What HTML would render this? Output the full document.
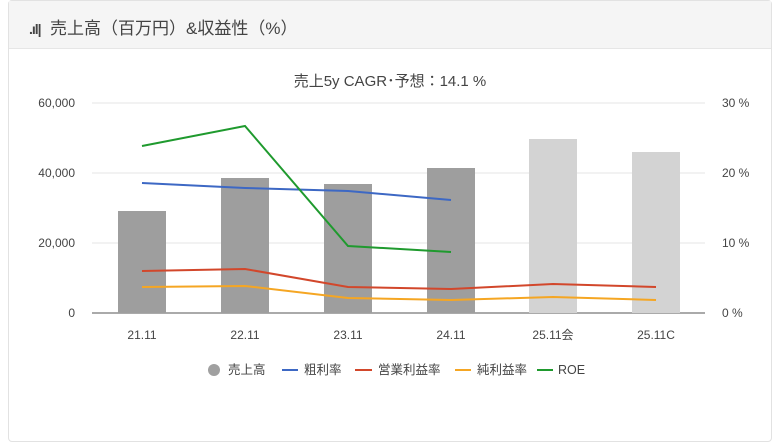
<!DOCTYPE html>
<html><head><meta charset="utf-8"><style>
body{margin:0;width:780px;height:405px;background:#fff;overflow:hidden;font-family:"Liberation Sans","Noto Sans CJK JP",sans-serif;}
.card{position:absolute;left:8px;top:0;width:762px;height:440px;border:1px solid #e2e2e2;border-radius:4px;}
.hd{position:absolute;left:0;top:0;right:0;height:47px;background:#f5f5f5;border-bottom:1px solid #e6e6e6;}
.hd span{position:absolute;left:20px;top:13px;font-size:17px;color:#444;}
</style></head><body>
<div class="card"><div class="hd"><span><b style="font-size:14px;letter-spacing:-1px">.ıl|</b>&nbsp; 売上高（百万円）&amp;収益性（%）</span></div></div>
<svg width="780" height="405" style="position:absolute;left:0;top:0" font-family="Liberation Sans, Noto Sans CJK JP, sans-serif">
<text x="390" y="86" text-anchor="middle" font-size="15" fill="#444">売上5y CAGR･予想：14.1 %</text>
<g stroke="#e6e6e6" stroke-width="1">
<line x1="92" x2="705" y1="103" y2="103"/><line x1="92" x2="705" y1="173" y2="173"/><line x1="92" x2="705" y1="243" y2="243"/></g>
<line x1="92" x2="705" y1="313" y2="313" stroke="#555"/>
<g font-size="12" fill="#444" text-anchor="end">
<text x="75" y="107">60,000</text><text x="75" y="177">40,000</text><text x="75" y="247">20,000</text><text x="75" y="317">0</text></g>
<g font-size="12" fill="#444">
<text x="722" y="107">30 %</text><text x="722" y="177">20 %</text><text x="722" y="247">10 %</text><text x="722" y="317">0 %</text></g>
<g fill="#9e9e9e"><rect x="118" y="211" width="48" height="102"/><rect x="221" y="178" width="48" height="135"/><rect x="324" y="184" width="48" height="129"/><rect x="427" y="168" width="48" height="145"/></g>
<g fill="#d3d3d3"><rect x="529" y="139" width="48" height="174"/><rect x="632" y="152" width="48" height="161"/></g>
<g fill="none" stroke-width="2">
<polyline stroke="#3d68c4" points="142,183 245,188 348,191 451,200"/>
<polyline stroke="#d2472b" points="142,271 245,269 348,287 451,289 553,284 656,287"/>
<polyline stroke="#f5a623" points="142,287 245,286 348,298 451,300 553,297 656,300"/>
<polyline stroke="#1f9a2e" points="142,146 245,126 348,246 451,252"/>
</g>
<g font-size="12" fill="#444" text-anchor="middle">
<text x="142" y="339">21.11</text><text x="245" y="339">22.11</text><text x="348" y="339">23.11</text><text x="451" y="339">24.11</text><text x="553" y="339">25.11会</text><text x="656" y="339">25.11C</text></g>
<g font-size="12.5" fill="#444">
<circle cx="214" cy="370" r="6" fill="#a0a0a0"/><text x="228" y="374">売上高</text>
<line x1="282" x2="298" y1="370" y2="370" stroke="#3d68c4" stroke-width="2"/><text x="304" y="374">粗利率</text>
<line x1="355" x2="372" y1="370" y2="370" stroke="#d2472b" stroke-width="2"/><text x="378" y="374">営業利益率</text>
<line x1="455" x2="471" y1="370" y2="370" stroke="#f5a623" stroke-width="2"/><text x="477" y="374">純利益率</text>
<line x1="537" x2="553" y1="370" y2="370" stroke="#1f9a2e" stroke-width="2"/><text x="558" y="374">ROE</text>
</g>
</svg>
</body></html>
